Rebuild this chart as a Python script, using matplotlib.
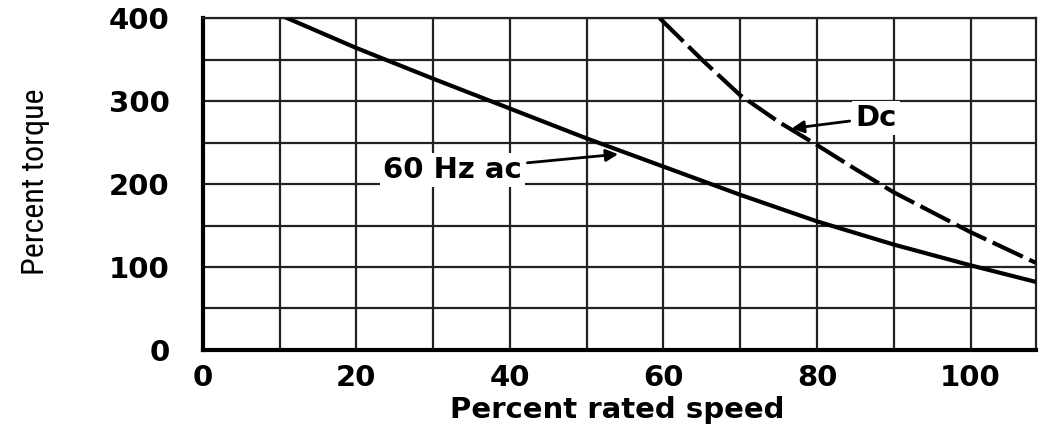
import matplotlib
matplotlib.use("Agg")
import matplotlib.pyplot as plt
from matplotlib import font_manager

# Data
ac_speed = [11, 20, 30, 40, 50, 60, 70, 80, 90, 100, 108.5]
ac_torque = [400, 364, 327, 291, 255, 221, 187, 155, 127, 102, 82]
dc_speed = [59.5, 65, 70, 75, 80, 85, 90, 100, 108.5]
dc_torque = [400, 350, 307, 275, 247, 218, 190, 142, 105]

x_ticks = [0, 20, 40, 60, 80, 100]
y_ticks = [0, 100, 200, 300, 400]
x_grid = list(range(0, 110, 10))
y_grid = list(range(0, 450, 50))

plt.rcParams['font.family'] = ['DejaVu Sans']

# pick a narrow font for the y label if one is installed
names = {f.name for f in font_manager.fontManager.ttflist}
narrow = None
for cand in ['Liberation Sans Narrow', 'Roboto Condensed', 'Open Sans Condensed',
             'DejaVu Sans Condensed', 'Noto Sans Condensed']:
    if cand in names:
        narrow = cand
        break

fig = plt.figure(figsize=(10.4, 4.32), dpi=100)
ax = fig.add_axes([0.195, 0.19, 0.801, 0.768])
ax.set_xlim(0, 108.5)
ax.set_ylim(0, 400)

for xv in x_grid:
    ax.axvline(xv, color='#222222', lw=1.6, zorder=1)
for yv in y_grid:
    ax.axhline(yv, color='#222222', lw=1.6, zorder=1)

ax.plot(ac_speed, ac_torque, color='black', lw=3.0, zorder=3,
        solid_joinstyle='round')
ax.plot(dc_speed, dc_torque, color='black', lw=3.0, dashes=(8, 1.7), zorder=3)

ax.set_xticks(x_ticks)
ax.set_yticks(y_ticks)
ax.tick_params(length=0, labelsize=21, pad=10)
ax.tick_params(axis='y', pad=24)
for lab in ax.get_xticklabels() + ax.get_yticklabels():
    lab.set_fontweight('bold')

for side in ['top', 'right']:
    ax.spines[side].set_linewidth(1.6)
    ax.spines[side].set_color('#222222')
for side in ['left', 'bottom']:
    ax.spines[side].set_linewidth(3)
    ax.spines[side].set_color('black')

ax.set_xlabel('Percent rated speed', fontsize=21, fontweight='bold')
ax.xaxis.set_label_coords(0.497, -0.14)
if narrow:
    ax.set_ylabel('Percent torque', fontsize=23, family=[narrow, 'DejaVu Sans'])
else:
    ax.set_ylabel('Percent torque', fontsize=16, fontstretch='condensed')
ax.yaxis.set_label_coords(-0.184, 0.506)

box = dict(facecolor='white', edgecolor='none', pad=2)
ax.annotate('60 Hz ac', xy=(54.1, 236), xytext=(32.5, 217), fontsize=21,
            fontweight='bold', ha='center', va='center', bbox=box, zorder=4,
            arrowprops=dict(arrowstyle='-|>', color='black', lw=2,
                            mutation_scale=18, shrinkA=2, shrinkB=0))
ax.annotate('Dc', xy=(76.7, 267), xytext=(85, 280), fontsize=21,
            fontweight='bold', ha='left', va='center', bbox=box, zorder=4,
            arrowprops=dict(arrowstyle='-|>', color='black', lw=2,
                            mutation_scale=18, shrinkA=2, shrinkB=0))

fig.savefig('out.png', dpi=100)
